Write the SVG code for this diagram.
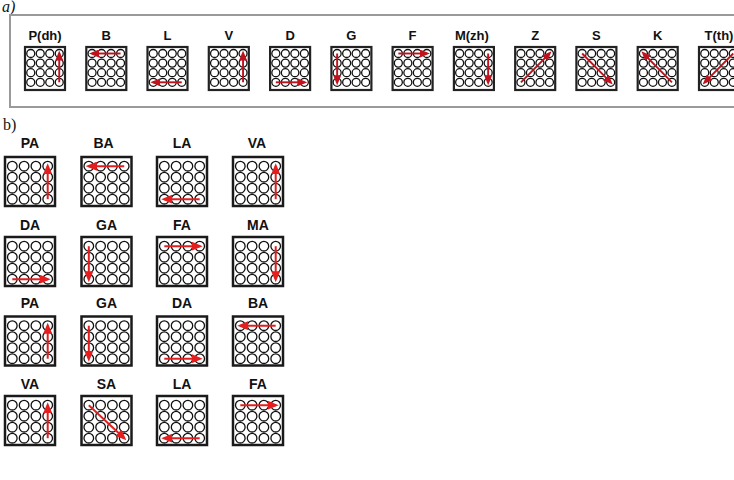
<svg xmlns="http://www.w3.org/2000/svg" xmlns:xlink="http://www.w3.org/1999/xlink" width="734" height="480" viewBox="0 0 734 480">
<style>
.bg{fill:#ffffff}
.frame{fill:none;stroke:#9a9a9a;stroke-width:2}
.boxT{fill:#ffffff;stroke:#222;stroke-width:2.2}
.boxB{fill:#ffffff;stroke:#1a1a1a;stroke-width:2.5}
.c{fill:#ffffff;stroke:#111;stroke-width:1.3}
.lblT{font-family:"Liberation Sans",Arial,sans-serif;font-weight:bold;font-size:13px;text-anchor:middle;fill:#111}
.lblB{font-family:"Liberation Sans",Arial,sans-serif;font-weight:bold;font-size:14px;text-anchor:middle;fill:#111}
.tag{font-family:"Liberation Serif","Times New Roman",serif;font-size:16px;fill:#111}
.arT{stroke:#c0121c;stroke-width:1.9;fill:none;marker-end:url(#mT)}
.arB{stroke:#e41e1e;stroke-width:2;fill:none;marker-end:url(#mB)}
</style>
<defs>
<marker id="mT" markerUnits="userSpaceOnUse" markerWidth="10" markerHeight="8" refX="7" refY="4" orient="auto">
<path d="M0,0 L10,4 L0,8 z" fill="#c0121c"/>
</marker>
<marker id="mB" markerUnits="userSpaceOnUse" markerWidth="11" markerHeight="9" refX="8" refY="4.5" orient="auto">
<path d="M0,0 L11,4.5 L0,9 z" fill="#e41e1e"/>
</marker>
<g id="gt">
<rect class="boxT" x="0" y="0" width="40" height="43"/>
<circle class="c" cx="5.75" cy="6.5" r="4"/><circle class="c" cx="15.25" cy="6.5" r="4"/><circle class="c" cx="24.75" cy="6.5" r="4"/><circle class="c" cx="34.25" cy="6.5" r="4"/>
<circle class="c" cx="5.75" cy="16.1" r="4"/><circle class="c" cx="15.25" cy="16.1" r="4"/><circle class="c" cx="24.75" cy="16.1" r="4"/><circle class="c" cx="34.25" cy="16.1" r="4"/>
<circle class="c" cx="5.75" cy="25.7" r="4"/><circle class="c" cx="15.25" cy="25.7" r="4"/><circle class="c" cx="24.75" cy="25.7" r="4"/><circle class="c" cx="34.25" cy="25.7" r="4"/>
<circle class="c" cx="5.75" cy="35.3" r="4"/><circle class="c" cx="15.25" cy="35.3" r="4"/><circle class="c" cx="24.75" cy="35.3" r="4"/><circle class="c" cx="34.25" cy="35.3" r="4"/>
</g>
<g id="gb">
<rect class="boxB" x="0" y="0" width="50" height="49"/>
<circle class="c" cx="7.3" cy="9.2" r="4.8"/><circle class="c" cx="19.1" cy="9.2" r="4.8"/><circle class="c" cx="30.9" cy="9.2" r="4.8"/><circle class="c" cx="42.7" cy="9.2" r="4.8"/>
<circle class="c" cx="7.3" cy="20.2" r="4.8"/><circle class="c" cx="19.1" cy="20.2" r="4.8"/><circle class="c" cx="30.9" cy="20.2" r="4.8"/><circle class="c" cx="42.7" cy="20.2" r="4.8"/>
<circle class="c" cx="7.3" cy="31.2" r="4.8"/><circle class="c" cx="19.1" cy="31.2" r="4.8"/><circle class="c" cx="30.9" cy="31.2" r="4.8"/><circle class="c" cx="42.7" cy="31.2" r="4.8"/>
<circle class="c" cx="7.3" cy="42.2" r="4.8"/><circle class="c" cx="19.1" cy="42.2" r="4.8"/><circle class="c" cx="30.9" cy="42.2" r="4.8"/><circle class="c" cx="42.7" cy="42.2" r="4.8"/>
</g>
</defs>
<rect class="bg" x="0" y="0" width="734" height="480"/>
<text class="tag" x="2" y="12" font-size="11" font-style="italic">a)</text>
<rect class="frame" x="10" y="15" width="740" height="92"/>
<text class="tag" x="3" y="130">b)</text>

<!-- panel a -->
<g id="a-Pdh" transform="translate(25,47)"><text class="lblT" x="20" y="-7">P(dh)</text><use xlink:href="#gt"/><line class="arT" x1="34.25" y1="35.3" x2="34.25" y2="6.5"/></g>
<g id="a-B" transform="translate(86.3,47)"><text class="lblT" x="20" y="-7">B</text><use xlink:href="#gt"/><line class="arT" x1="34.25" y1="6.5" x2="5.75" y2="6.5"/></g>
<g id="a-L" transform="translate(147.5,47)"><text class="lblT" x="20" y="-7">L</text><use xlink:href="#gt"/><line class="arT" x1="34.25" y1="35.3" x2="5.75" y2="35.3"/></g>
<g id="a-V" transform="translate(208.8,47)"><text class="lblT" x="20" y="-7">V</text><use xlink:href="#gt"/><line class="arT" x1="34.25" y1="35.3" x2="34.25" y2="6.5"/></g>
<g id="a-D" transform="translate(270.1,47)"><text class="lblT" x="20" y="-7">D</text><use xlink:href="#gt"/><line class="arT" x1="5.75" y1="35.3" x2="34.25" y2="35.3"/></g>
<g id="a-G" transform="translate(331.4,47)"><text class="lblT" x="20" y="-7">G</text><use xlink:href="#gt"/><line class="arT" x1="5.75" y1="6.5" x2="5.75" y2="35.3"/></g>
<g id="a-F" transform="translate(392.6,47)"><text class="lblT" x="20" y="-7">F</text><use xlink:href="#gt"/><line class="arT" x1="5.75" y1="6.5" x2="34.25" y2="6.5"/></g>
<g id="a-Mzh" transform="translate(453.9,47)"><text class="lblT" x="18" y="-7">M(zh)</text><use xlink:href="#gt"/><line class="arT" x1="34.25" y1="6.5" x2="34.25" y2="35.3"/></g>
<g id="a-Z" transform="translate(515.2,47)"><text class="lblT" x="20" y="-7">Z</text><use xlink:href="#gt"/><line class="arT" x1="5.75" y1="35.3" x2="34.25" y2="6.5"/></g>
<g id="a-S" transform="translate(576.4,47)"><text class="lblT" x="20" y="-7">S</text><use xlink:href="#gt"/><line class="arT" x1="5.75" y1="6.5" x2="34.25" y2="35.3"/></g>
<g id="a-K" transform="translate(637.7,47)"><text class="lblT" x="20" y="-7">K</text><use xlink:href="#gt"/><line class="arT" x1="34.25" y1="35.3" x2="5.75" y2="6.5"/></g>
<g id="a-Tth" transform="translate(699,47)"><text class="lblT" x="20" y="-7">T(th)</text><use xlink:href="#gt"/><line class="arT" x1="34.25" y1="6.5" x2="5.75" y2="35.3"/></g>

<!-- panel b, row 1 -->
<g id="b-r1-PA" transform="translate(5,157)"><text class="lblB" x="25" y="-9">PA</text><use xlink:href="#gb"/><line class="arB" x1="42.7" y1="42.2" x2="42.7" y2="9.2"/></g>
<g id="b-r1-BA" transform="translate(81.5,157)"><text class="lblB" x="22" y="-9">BA</text><use xlink:href="#gb"/><line class="arB" x1="42.7" y1="9.2" x2="7.3" y2="9.2"/></g>
<g id="b-r1-LA" transform="translate(157,157)"><text class="lblB" x="25" y="-9">LA</text><use xlink:href="#gb"/><line class="arB" x1="42.7" y1="42.2" x2="7.3" y2="42.2"/></g>
<g id="b-r1-VA" transform="translate(233,157)"><text class="lblB" x="24" y="-9">VA</text><use xlink:href="#gb"/><line class="arB" x1="42.7" y1="42.2" x2="42.7" y2="9.2"/></g>
<!-- row 2 -->
<g id="b-r2-DA" transform="translate(5,237)"><text class="lblB" x="25" y="-7">DA</text><use xlink:href="#gb"/><line class="arB" x1="7.3" y1="42.2" x2="42.7" y2="42.2"/></g>
<g id="b-r2-GA" transform="translate(81.5,237)"><text class="lblB" x="25" y="-7">GA</text><use xlink:href="#gb"/><line class="arB" x1="7.3" y1="9.2" x2="7.3" y2="42.2"/></g>
<g id="b-r2-FA" transform="translate(157,237)"><text class="lblB" x="25" y="-7">FA</text><use xlink:href="#gb"/><line class="arB" x1="7.3" y1="9.2" x2="42.7" y2="9.2"/></g>
<g id="b-r2-MA" transform="translate(233,237)"><text class="lblB" x="25" y="-7">MA</text><use xlink:href="#gb"/><line class="arB" x1="42.7" y1="9.2" x2="42.7" y2="42.2"/></g>
<!-- row 3 -->
<g id="b-r3-PA" transform="translate(5,316.5)"><text class="lblB" x="25" y="-9">PA</text><use xlink:href="#gb"/><line class="arB" x1="42.7" y1="42.2" x2="42.7" y2="9.2"/></g>
<g id="b-r3-GA" transform="translate(81.5,316.5)"><text class="lblB" x="25" y="-9">GA</text><use xlink:href="#gb"/><line class="arB" x1="7.3" y1="9.2" x2="7.3" y2="42.2"/></g>
<g id="b-r3-DA" transform="translate(157,316.5)"><text class="lblB" x="25" y="-9">DA</text><use xlink:href="#gb"/><line class="arB" x1="7.3" y1="42.2" x2="42.7" y2="42.2"/></g>
<g id="b-r3-BA" transform="translate(233,316.5)"><text class="lblB" x="25" y="-9">BA</text><use xlink:href="#gb"/><line class="arB" x1="42.7" y1="9.2" x2="7.3" y2="9.2"/></g>
<!-- row 4 -->
<g id="b-r4-VA" transform="translate(5,396)"><text class="lblB" x="25" y="-7">VA</text><use xlink:href="#gb"/><line class="arB" x1="42.7" y1="42.2" x2="42.7" y2="9.2"/></g>
<g id="b-r4-SA" transform="translate(81.5,396)"><text class="lblB" x="25" y="-7">SA</text><use xlink:href="#gb"/><line class="arB" x1="7.3" y1="9.2" x2="42.7" y2="42.2"/></g>
<g id="b-r4-LA" transform="translate(157,396)"><text class="lblB" x="25" y="-7">LA</text><use xlink:href="#gb"/><line class="arB" x1="42.7" y1="42.2" x2="7.3" y2="42.2"/></g>
<g id="b-r4-FA" transform="translate(233,396)"><text class="lblB" x="25" y="-7">FA</text><use xlink:href="#gb"/><line class="arB" x1="7.3" y1="9.2" x2="42.7" y2="9.2"/></g>

<g id="connectors"></g>
</svg>
